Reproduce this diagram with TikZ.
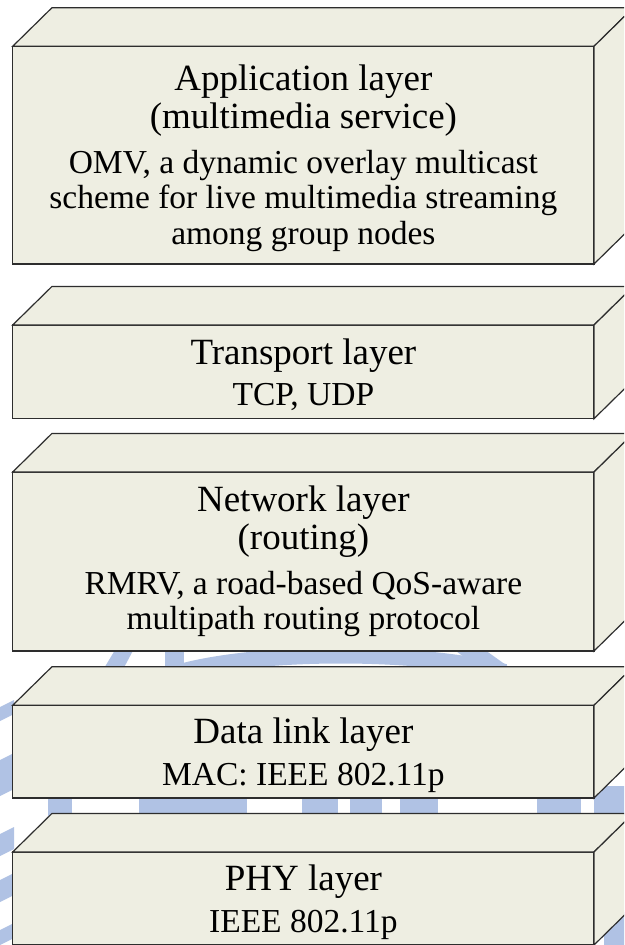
\documentclass[tikz,border=0pt]{standalone}
\usepackage{fontspec}
\setmainfont{Liberation Serif}
\usetikzlibrary{calc}

\definecolor{facefill}{RGB}{238,238,226}
\definecolor{edgecol}{RGB}{45,45,45}
\definecolor{sealblue}{RGB}{176,194,228}

\tikzset{
  face/.style={fill=facefill, draw=edgecol, line width=1.2pt, line join=miter},
  frontface/.style={face, rectangle, inner sep=0pt, outer sep=0pt, minimum width=581.3pt},
  headtxt/.style={font=\fontsize{37}{38}\selectfont, anchor=base, inner sep=0pt},
  subtxt/.style={font=\fontsize{33.5}{35}\selectfont, anchor=base, inner sep=0pt},
  sealpart/.style={fill=sealblue, draw=none},
}

% one layer block: name, centre y, front height
\newcommand\layerblock[3]{%
  \node[frontface, minimum height=#3pt] (#1) at (303.35,#2) {};
  \draw[face] (#1.north west) -- ++(39.3,-38.6) -- ($(#1.north east)+(39.3,-38.6)$)
              -- (#1.north east) -- cycle;
  \draw[face] (#1.north east) -- ++(39.3,-38.6) -- ($(#1.south east)+(39.3,-38.6)$)
              -- (#1.south east) -- cycle;
}

\begin{document}
\begin{tikzpicture}[x=1pt,y=-1pt]
  \clip (0,0) rectangle (624,945);
  \fill[white] (0,0) rectangle (624,945);

  % faint seal behind the lower blocks
  \draw[draw=sealblue, line width=16pt] (180,672) .. controls (260,650) and (420,650) .. (505,672);
  \fill[sealpart] (100,675) -- (118,645) -- (136,645) -- (120,675) -- cycle;
  \fill[sealpart] (165,645) rectangle (184,670);
  \fill[sealpart] (448,645) -- (478,645) -- (520,675) -- (488,675) -- cycle;
  \foreach \xa/\xb in {48/72, 139/247, 302/338, 350/382, 400/438, 537/581}
    \fill[sealpart] (\xa,794) rectangle (\xb,818);
  \foreach \ya/\yb in {700/722, 753/797, 827/857, 873/903, 923/946}
    \fill[sealpart] (-2,\yb) -- (-2,\ya+8) -- (14,\ya) -- (14,\yb-8) -- cycle;
  \fill[sealpart] (594,786) rectangle (630,816);
  \fill[sealpart] (604,912) rectangle (630,950);

  % protocol stack
  \layerblock{app}{155.15}{217.7}
  \layerblock{trans}{371.85}{93.7}
  \layerblock{net}{561.5}{179}
  \layerblock{link}{751.65}{92.7}
  \layerblock{phy}{898.5}{93}

  \node[headtxt] (app1) at (303.4,90) {Application layer};
  \node[headtxt] (app2) at (303.4,128) {(multimedia service)};
  \node[subtxt]  (app3) at (303.4,173) {OMV, a dynamic overlay multicast};
  \node[subtxt]  (app4) at (303.4,208) {scheme for live multimedia streaming};
  \node[subtxt]  (app5) at (303.4,244) {among group nodes};

  \node[headtxt] (trans1) at (303.4,364) {Transport layer};
  \node[subtxt]  (trans2) at (303.4,405) {TCP, UDP};

  \node[headtxt] (net1) at (303.4,511) {Network layer};
  \node[headtxt] (net2) at (303.4,549) {(routing)};
  \node[subtxt]  (net3) at (303.4,594) {RMRV, a road-based QoS-aware};
  \node[subtxt]  (net4) at (303.4,629) {multipath routing protocol};

  \node[headtxt] (link1) at (303.4,743) {Data link layer};
  \node[subtxt]  (link2) at (303.4,785) {MAC: IEEE 802.11p};

  \node[headtxt] (phy1) at (303.4,890) {PHY layer};
  \node[subtxt]  (phy2) at (303.4,932) {IEEE 802.11p};
\end{tikzpicture}
\end{document}
